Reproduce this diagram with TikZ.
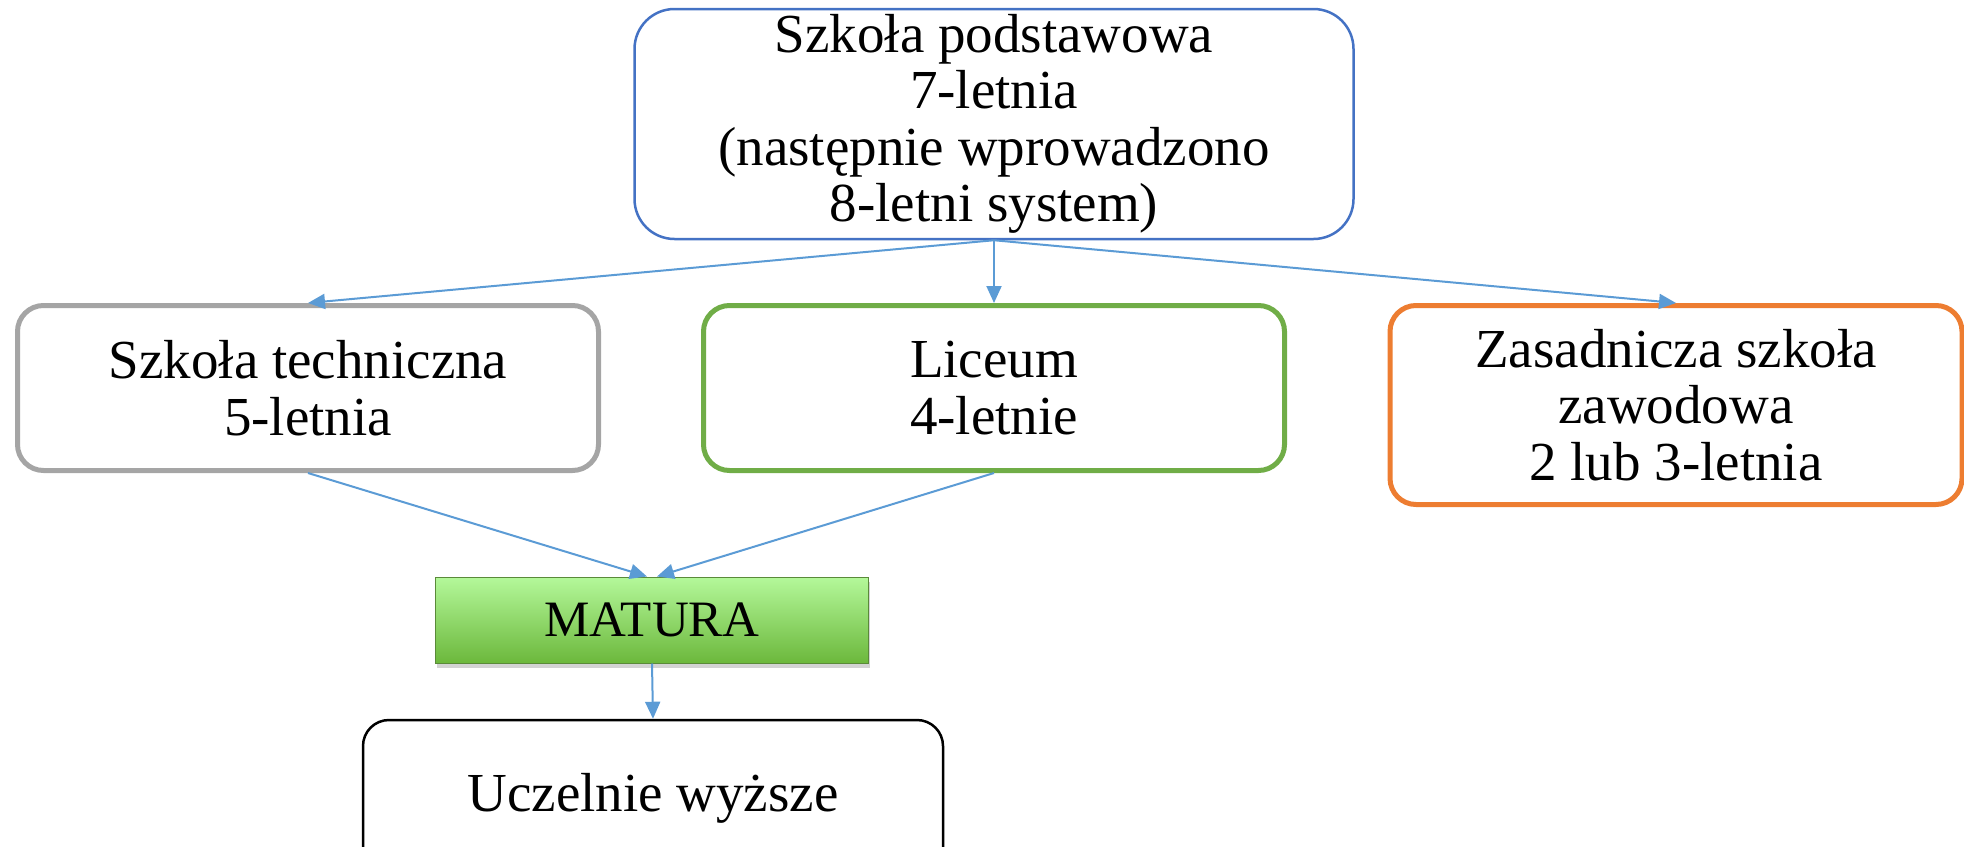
\documentclass[tikz,border=0pt]{standalone}
\usepackage{fontspec}
\setmainfont{Liberation Serif}
\usetikzlibrary{arrows.meta,shadows}
\definecolor{topblue}{RGB}{68,114,196}
\definecolor{techgray}{RGB}{165,165,165}
\definecolor{licgreen}{RGB}{112,173,71}
\definecolor{zasorange}{RGB}{237,125,49}
\definecolor{arrblue}{RGB}{91,155,213}
\definecolor{mattop}{RGB}{180,248,154}
\definecolor{matbot}{RGB}{108,184,60}
\tikzset{box/.style={draw, fill=white, rounded corners=26pt, align=center, inner sep=0pt, font=\fontsize{55}{56.5}\selectfont},
  lev/.style={box, line width=5pt, minimum width=581pt, minimum height=165pt},
  arr/.style={draw=arrblue, line width=2pt, -{Triangle[length=17pt,width=15pt]}}}

\begin{document}
\begin{tikzpicture}[x=1pt,y=-1pt]
  \useasboundingbox (0,0) rectangle (1964,846);
  \node[box, draw=topblue, line width=2.5pt, rounded corners=40pt, minimum width=719pt, minimum height=230pt] (sp) at (994,124) {Szkoła podstawowa\\7-letnia\\(następnie wprowadzono\\8-letni system)};
  \node[lev, draw=techgray] (tech) at (308,388) {Szkoła techniczna\\5-letnia};
  \node[lev, draw=licgreen] (lic) at (994,388) {Liceum\\4-letnie};
  \node[lev, draw=zasorange, minimum width=572pt, minimum height=199pt] (zas) at (1676,405) {Zasadnicza szkoła\\zawodowa\\2 lub 3-letnia};
  \node[draw=licgreen!80!black, line width=1pt, top color=mattop, bottom color=matbot, minimum width=433pt, minimum height=86pt, inner sep=0pt,
    font=\fontsize{51}{56}\selectfont, drop shadow={opacity=0.35, shadow xshift=1pt, shadow yshift=-5pt}] (mat) at (652,620) {MATURA};
  \node[box, line width=2.5pt, minimum width=580pt, minimum height=220pt] (ucz) at (653,830) {\raisebox{75pt}{Uczelnie wyższe}};
  \draw[arr] (sp.south) -- (tech.north);
  \draw[arr] (sp.south) -- (lic.north);
  \draw[arr] (sp.south) -- (zas.north);
  \draw[arr] (tech.south) -- ([xshift=-5pt]mat.north);
  \draw[arr] (lic.south) -- ([xshift=5pt]mat.north);
  \draw[arr] (mat.south) -- (ucz.north);
\end{tikzpicture}
\end{document}
